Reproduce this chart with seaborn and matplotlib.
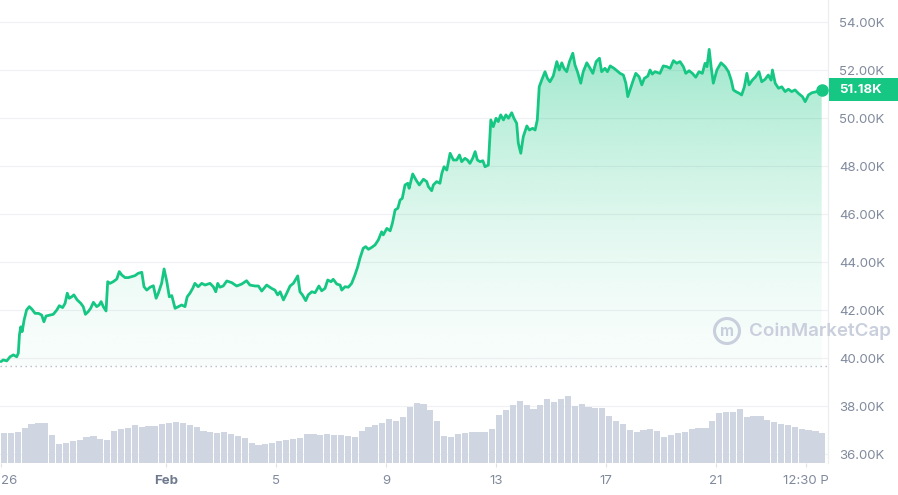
import numpy as np
import matplotlib
matplotlib.use("Agg")
import matplotlib.pyplot as plt
import matplotlib.transforms as mtrans
from matplotlib.patches import Rectangle, Circle
import seaborn as sns

# ---------------- data ----------------
# time in days since Jan 26 00:00
days = [0.00,0.08,0.21,0.33,0.45,0.57,0.63,0.67,0.72,0.77,
        0.84,0.93,1.03,1.12,1.24,1.36,1.48,1.56,1.64,1.78,
        1.90,2.03,2.12,2.24,2.33,2.41,2.48,2.57,2.65,2.77,
        2.90,2.99,3.07,3.17,3.26,3.36,3.48,3.57,3.64,3.72,
        3.82,3.88,3.96,4.08,4.21,4.30,4.39,4.51,4.63,4.75,
        4.87,4.99,5.12,5.20,5.30,5.42,5.54,5.64,5.72,5.84,
        5.93,6.03,6.12,6.21,6.33,6.45,6.57,6.69,6.77,6.87,
        6.97,7.05,7.17,7.30,7.42,7.60,7.72,7.81,7.88,7.96,
        8.08,8.21,8.39,8.57,8.75,8.93,9.05,9.24,9.36,9.48,
        9.66,9.84,9.96,10.06,10.15,10.27,10.39,10.51,10.63,10.79,
        10.87,10.96,11.08,11.17,11.30,11.42,11.56,11.66,11.78,11.88,
        12.00,12.08,12.21,12.33,12.39,12.51,12.63,12.75,12.87,12.97,
        13.05,13.17,13.26,13.36,13.48,13.60,13.72,13.84,13.90,14.03,
        14.15,14.23,14.33,14.43,14.51,14.59,14.69,14.79,14.84,14.97,
        15.09,15.21,15.36,15.48,15.54,15.66,15.72,15.84,15.96,16.03,
        16.11,16.21,16.33,16.45,16.57,16.67,16.75,16.87,16.96,17.05,
        17.15,17.24,17.32,17.42,17.52,17.60,17.72,17.81,17.90,18.00,
        18.08,18.17,18.27,18.36,18.45,18.57,18.65,18.75,18.81,18.90,
        18.99,19.12,19.21,19.33,19.42,19.50,19.57,19.66,19.78,19.87,
        19.96,20.08,20.21,20.30,20.39,20.47,20.57,20.67,20.79,20.87,
        20.96,21.08,21.17,21.30,21.42,21.52,21.64,21.76,21.84,21.96,
        22.05,22.15,22.29,22.51,22.63,22.72,22.79,22.87,22.99,23.08,
        23.20,23.30,23.39,23.52,23.60,23.68,23.78,23.96,24.08,24.21,
        24.33,24.45,24.57,24.69,24.81,24.90,25.02,25.14,25.26,25.38,
        25.50,25.60,25.67,25.75,25.82,25.90,26.03,26.18,26.33,26.45,
        26.55,26.63,26.72,26.84,26.93,27.03,27.12,27.20,27.32,27.44,
        27.56,27.66,27.78,27.90,28.00,28.05,28.15,28.27,28.39,28.51,
        28.63,28.75,28.87,28.99,29.14,29.24,29.36,29.48,29.66,29.84]

# price in thousands of USD
price_k = [39.85,39.92,39.88,40.05,40.13,40.05,40.20,40.96,41.30,41.10,
           41.58,42.00,42.14,42.04,41.86,41.86,41.79,41.51,41.75,41.79,
           41.82,42.00,42.18,42.10,42.28,42.70,42.49,42.55,42.63,42.42,
           42.28,42.14,41.82,41.93,42.07,42.32,42.14,42.21,42.35,42.14,
           41.96,43.18,43.11,43.18,43.29,43.60,43.46,43.35,43.35,43.39,
           43.43,43.53,43.57,42.97,42.83,42.95,43.01,42.49,42.70,43.11,
           43.71,43.18,42.55,42.60,42.07,42.14,42.21,42.14,42.55,42.70,
           42.90,43.11,42.97,43.11,43.04,43.11,42.97,42.76,43.11,42.95,
           43.00,43.21,43.14,43.00,43.08,43.22,43.04,43.00,43.00,42.79,
           43.04,42.90,42.83,42.63,42.76,42.42,42.70,43.00,43.11,43.42,
           42.76,42.63,42.39,42.63,42.76,42.72,43.00,42.80,42.90,43.25,
           43.18,43.28,43.08,43.04,42.83,42.97,42.95,43.11,43.46,43.80,
           44.15,44.57,44.64,44.53,44.61,44.71,44.92,45.26,45.13,45.40,
           45.30,45.61,46.17,46.24,46.58,46.65,47.21,47.28,47.07,47.67,
           47.42,47.21,47.45,47.35,47.14,46.97,47.21,47.35,47.28,47.70,
           47.97,47.83,48.53,48.25,48.25,48.46,48.18,48.32,48.25,48.11,
           48.32,48.60,48.25,48.18,48.22,47.97,48.04,49.92,49.64,49.99,
           49.85,50.13,49.92,50.13,49.99,50.22,49.99,49.78,48.95,48.53,
           49.22,49.67,49.50,49.57,49.50,49.92,51.30,51.58,51.93,51.65,
           51.51,51.75,52.35,52.00,52.30,52.07,51.93,52.35,52.70,52.21,
           51.93,51.45,51.93,52.30,52.07,51.86,52.35,52.49,51.93,52.07,
           51.93,52.17,52.07,51.86,51.79,51.45,50.89,51.17,51.58,51.86,
           51.72,51.38,51.65,51.75,52.00,51.83,51.93,51.86,52.17,52.14,
           52.07,52.39,52.28,52.35,52.14,51.86,51.97,51.86,51.70,51.93,
           51.86,52.28,52.14,52.86,52.14,51.45,52.00,52.30,52.14,51.93,
           51.58,51.17,51.10,51.03,50.96,51.30,51.86,51.38,51.58,51.72,
           51.93,51.51,51.61,51.79,51.58,52.00,51.45,51.24,51.30,51.10,
           51.20,51.10,51.17,51.03,50.89,50.68,50.96,51.05,51.10,51.18]

# volume, one bar every 6 hours (billions USD, relative)
volume_b = [30,30,31,35,39,40,40,28,19,20,
            22,23,26,27,24,23,32,34,35,38,
            36,37,37,39,40,41,40,38,36,32,
            31,30,31,29,27,25,20,18,19,20,
            22,23,24,25,29,29,28,29,28,28,
            27,26,32,36,38,40,44,42,46,56,
            60,59,53,42,27,26,29,30,31,31,
            31,34,48,53,58,62,58,54,58,64,
            61,64,67,57,59,56,55,55,47,42,
            39,33,31,33,34,32,26,28,30,31,
            34,35,35,42,50,51,51,54,46,47,
            47,43,41,39,38,36,34,33,32,30]
volume_days = np.arange(len(volume_b)) * 0.25

open_price_k = 39.67
last_price_label = "51.18K"
y_ticks = [36, 38, 40, 42, 44, 46, 48, 50, 52, 54]
x_tick_days = [0, 6, 10, 14, 18, 22, 26, 29.27]
x_tick_labels = ["26", "Feb", "5", "9", "13", "17", "21", "12:30 P"]

# ---------------- style ----------------
GREEN = "#16c784"
GREY = "#808a9d"
sns.set_theme(style="white")
plt.rcParams['font.family'] = ['Inter', 'DejaVu Sans']

W, H = 898, 495
fig = plt.figure(figsize=(W / 100, H / 100), dpi=100)
rect = [0, 32 / H, 828 / W, 463 / H]
ax = fig.add_axes(rect)
axv = fig.add_axes(rect)
axv.set_facecolor('none')

xlim = (-0.036, 30.07)
ylim = (35.625, 54.917)

# price line
sns.lineplot(x=days, y=price_k, ax=ax, color=GREEN, linewidth=2.0,
             estimator=None, sort=False, zorder=4)

# gradient fill under the line
poly = ax.fill_between(days, price_k, open_price_k, color='none', linewidth=0)
top = max(price_k)
n = 256
pvals = np.linspace(open_price_k, top, n)
alpha = 0.03 + 0.30 * np.clip((pvals - open_price_k) / (51.0 - open_price_k), 0, None) ** 1.6
alpha = np.clip(alpha, 0, 0.45)
rgb = matplotlib.colors.to_rgb(GREEN)
img = np.zeros((n, 1, 4))
img[:, 0, 0], img[:, 0, 1], img[:, 0, 2] = rgb
img[:, 0, 3] = alpha
im = ax.imshow(img, extent=[days[0], days[-1], open_price_k, top], origin='lower',
               aspect='auto', interpolation='bilinear', zorder=2)
im.set_clip_path(poly.get_paths()[0], transform=ax.transData)

# opening price dotted line
ax.axhline(open_price_k, color='#b3bac8', lw=1.0, ls=(0, (1, 2.6)), zorder=3)

# end dot
ax.plot([days[-1]], [price_k[-1]], 'o', ms=8, color=GREEN, zorder=6, clip_on=False)

ax.set_xlim(xlim)
ax.set_ylim(ylim)
ax.set_xlabel("")
ax.set_ylabel("")

# grid & spines
ax.grid(axis='y', color='#f0f1f4', lw=0.9)
ax.grid(axis='x', visible=False)
for s in ['top', 'left', 'bottom']:
    ax.spines[s].set_visible(False)
ax.spines['right'].set_color('#eceef2')
ax.spines['right'].set_linewidth(0.9)

ax.yaxis.tick_right()
ax.set_yticks(y_ticks)
ax.set_yticklabels([f"{v:.2f}K" for v in y_ticks])
ax.tick_params(axis='y', length=0, pad=8, labelsize=9.5, labelcolor=GREY)

ax.set_xticks(x_tick_days)
ax.set_xticklabels(x_tick_labels)
ax.tick_params(axis='x', bottom=True, length=3, width=0.8, color='#dde1e8',
               pad=6, labelsize=9.5, labelcolor=GREY)
xl = ax.get_xticklabels()
xl[0].set_ha('left')
xl[1].set_fontweight('bold')
xl[1].set_color('#6f7a8e')

# volume bars
axv.bar(volume_days, volume_b, width=0.225, align='edge', color='#d0d5e2', linewidth=0)
axv.set_xlim(xlim)
axv.set_ylim(0, 463)
axv.axis('off')

# last price badge
blend = mtrans.blended_transform_factory(fig.transFigure, ax.transData)
badge_h = 23 / 24.0
fig.add_artist(Rectangle((829 / W, price_k[-1] - badge_h / 2), 69 / W, badge_h,
                         transform=blend, facecolor=GREEN, edgecolor='none'))
fig.text(861 / W, price_k[-1], last_price_label, transform=blend, ha='center', va='center',
         color='white', fontsize=9.5, fontweight='bold')

# watermark
WM = '#c9cfdc'
fig.add_artist(Circle((727 / 100, (H - 331) / 100), 0.125, transform=fig.dpi_scale_trans,
                      fill=False, lw=2.2, ec=WM))
fig.text(727 / W, 1 - 332 / H, "m", ha='center', va='center', fontsize=11,
         fontweight='bold', color=WM)
fig.text(749 / W, 1 - 331 / H, "CoinMarketCap", ha='left', va='center', fontsize=13.5,
         fontweight='semibold', color=WM)

fig.savefig("out.png", dpi=100)
